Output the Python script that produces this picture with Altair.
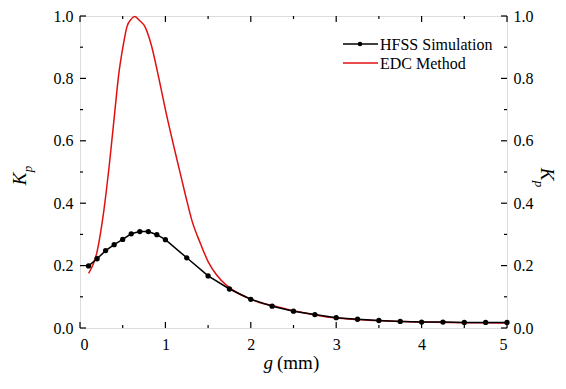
import altair as alt
import pandas as pd

# ---- data ----
hfss_g = [0.1, 0.2, 0.3, 0.4, 0.5, 0.6, 0.7, 0.8, 0.9, 1.0,
          1.25, 1.5, 1.75, 2.0, 2.25, 2.5, 2.75, 3.0, 3.25, 3.5,
          3.75, 4.0, 4.25, 4.5, 4.75, 5.0]
hfss_kp = [0.199, 0.222, 0.248, 0.267, 0.284, 0.302, 0.309, 0.309, 0.299, 0.283,
           0.225, 0.167, 0.125, 0.092, 0.070, 0.054, 0.043, 0.033, 0.028, 0.024,
           0.021, 0.019, 0.019, 0.018, 0.018, 0.018]

edc_g = [0.1, 0.2, 0.28, 0.35, 0.41, 0.45, 0.51, 0.55, 0.6, 0.64, 0.7, 0.76, 0.83,
         0.92, 1.0, 1.09, 1.165, 1.24, 1.31, 1.41, 1.5, 1.6, 1.72, 1.84, 1.95, 2.1,
         2.25, 2.5, 2.75, 3.0, 3.25, 3.5, 4.0, 4.5, 5.0]
edc_kp = [0.175, 0.245, 0.378, 0.54, 0.70, 0.805, 0.912, 0.966, 0.99, 0.998, 0.985,
          0.966, 0.912, 0.805, 0.70, 0.592, 0.506, 0.42, 0.345, 0.271, 0.213, 0.170,
          0.136, 0.113, 0.098, 0.082, 0.072, 0.055, 0.042, 0.032, 0.027, 0.023,
          0.019, 0.017, 0.016]

x_major = [0, 1, 2, 3, 4, 5]
x_minor = [0.5, 1.5, 2.5, 3.5, 4.5]
y_major = [0.0, 0.2, 0.4, 0.6, 0.8, 1.0]
y_minor = [0.1, 0.3, 0.5, 0.7, 0.9]

legend_labels = ["HFSS Simulation", "EDC Method"]
x_title = ["g", "(mm)"]
y_title = ["K", "p"]

FONT = "Liberation Serif, Times New Roman, serif"
W, H = 427, 312
RED = "#e01010"

hfss_df = pd.DataFrame({"g": hfss_g, "kp": hfss_kp})
edc_df = pd.DataFrame({"g": edc_g, "kp": edc_kp})
xmaj_df = pd.DataFrame({"v": x_major})
xmin_df = pd.DataFrame({"v": x_minor})
ymaj_df = pd.DataFrame({"v": y_major})
ymin_df = pd.DataFrame({"v": y_minor})
one = alt.Data(values=[{}])

xs = alt.Scale(domain=[0, 5], nice=False, zero=False)
ys = alt.Scale(domain=[0, 1], nice=False, zero=False)

x_axis = alt.Axis(values=x_major, format="d", ticks=False, domain=False, grid=False,
                  title=None, labelFont=FONT, labelFontSize=16, labelColor="black",
                  labelPadding=8)
y_axis_left = alt.Axis(values=y_major, format=".1f", ticks=False, domain=False, grid=False,
                       title=None, labelFont=FONT, labelFontSize=16, labelColor="black",
                       labelPadding=7, orient="left")
y_axis_right = alt.Axis(values=y_major, format=".1f", ticks=False, domain=False, grid=False,
                        title=None, labelFont=FONT, labelFontSize=16, labelColor="black",
                        labelPadding=6, orient="right")

red_line = alt.Chart(edc_df).mark_line(color=RED, strokeWidth=1.5, interpolate="monotone").encode(
    x=alt.X("g:Q", scale=xs, axis=x_axis),
    y=alt.Y("kp:Q", scale=ys, axis=y_axis_left),
)
black_line = alt.Chart(hfss_df).mark_line(color="black", strokeWidth=1.5).encode(
    x=alt.X("g:Q", scale=xs, axis=x_axis),
    y=alt.Y("kp:Q", scale=ys, axis=None),
)
black_pts = alt.Chart(hfss_df).mark_circle(color="black", size=28, opacity=1).encode(
    x=alt.X("g:Q", scale=xs, axis=x_axis),
    y=alt.Y("kp:Q", scale=ys, axis=y_axis_right),
)

# inward ticks
def xticks(df, length):
    bot = alt.Chart(df).mark_rule(color="black", strokeWidth=1.2).encode(
        x=alt.X("v:Q", scale=xs, axis=x_axis), y=alt.value(H), y2=alt.value(H - length))
    top = alt.Chart(df).mark_rule(color="black", strokeWidth=1.2).encode(
        x=alt.X("v:Q", scale=xs, axis=x_axis), y=alt.value(0), y2=alt.value(length))
    return [bot, top]

def yticks(df, length):
    left = alt.Chart(df).mark_rule(color="black", strokeWidth=1.2).encode(
        y=alt.Y("v:Q", scale=ys, axis=None), x=alt.value(0), x2=alt.value(length))
    right = alt.Chart(df).mark_rule(color="black", strokeWidth=1.2).encode(
        y=alt.Y("v:Q", scale=ys, axis=None), x=alt.value(W), x2=alt.value(W - length))
    return [left, right]

ticks = xticks(xmaj_df, 6) + xticks(xmin_df, 3) + yticks(ymaj_df, 6) + yticks(ymin_df, 3)

# legend
leg_y = [28, 47]
leg_hfss_line = alt.Chart(one).mark_rule(color="black", strokeWidth=1.5).encode(
    x=alt.value(263), x2=alt.value(298), y=alt.value(leg_y[0]))
leg_hfss_pt = alt.Chart(one).mark_circle(color="black", size=22, opacity=1).encode(
    x=alt.value(280), y=alt.value(leg_y[0]))
leg_edc_line = alt.Chart(one).mark_rule(color=RED, strokeWidth=1.5).encode(
    x=alt.value(263), x2=alt.value(298), y=alt.value(leg_y[1]))
leg_text = [
    alt.Chart(one).mark_text(font=FONT, fontSize=16, align="left", baseline="middle",
                             color="black").encode(
        x=alt.value(300), y=alt.value(leg_y[i] + 1), text=alt.value(lbl))
    for i, lbl in enumerate(legend_labels)
]

# axis titles
xt_g = alt.Chart(one).mark_text(font=FONT, fontSize=19, fontStyle="italic", align="right",
                                baseline="alphabetic", color="black").encode(
    x=alt.value(193), y=alt.value(353), text=alt.value(x_title[0]))
xt_mm = alt.Chart(one).mark_text(font=FONT, fontSize=19, align="left",
                                 baseline="alphabetic", color="black").encode(
    x=alt.value(197), y=alt.value(353), text=alt.value(x_title[1]))

yl_K = alt.Chart(one).mark_text(font=FONT, fontSize=19, fontStyle="italic", angle=270,
                                align="center", baseline="middle", color="black").encode(
    x=alt.value(-60), y=alt.value(163), text=alt.value(y_title[0]))
yl_p = alt.Chart(one).mark_text(font=FONT, fontSize=13, fontStyle="italic", angle=270,
                                align="center", baseline="middle", color="black").encode(
    x=alt.value(-52), y=alt.value(153), text=alt.value(y_title[1]))
yr_K = alt.Chart(one).mark_text(font=FONT, fontSize=19, fontStyle="italic", angle=90,
                                align="center", baseline="middle", color="black").encode(
    x=alt.value(467), y=alt.value(158), text=alt.value(y_title[0]))
yr_p = alt.Chart(one).mark_text(font=FONT, fontSize=13, fontStyle="italic", angle=90,
                                align="center", baseline="middle", color="black").encode(
    x=alt.value(459), y=alt.value(168), text=alt.value(y_title[1]))

chart = alt.layer(
    red_line, black_line, black_pts, *ticks,
    leg_hfss_line, leg_hfss_pt, leg_edc_line, *leg_text,
    xt_g, xt_mm, yl_K, yl_p, yr_K, yr_p,
).resolve_scale(y="shared", x="shared").resolve_axis(y="independent").properties(
    width=W, height=H,
    autosize=alt.AutoSizeParams(type="none"),
    padding={"left": 72, "top": 8, "right": 51, "bottom": 45},
).configure_view(stroke="black", strokeWidth=1.5).configure(
    background="white", font=FONT
).configure_axis(labelFont=FONT, labelFontSize=16, labelColor="black")

chart.save("out.html", embed_options={"renderer": "svg", "actions": False})
